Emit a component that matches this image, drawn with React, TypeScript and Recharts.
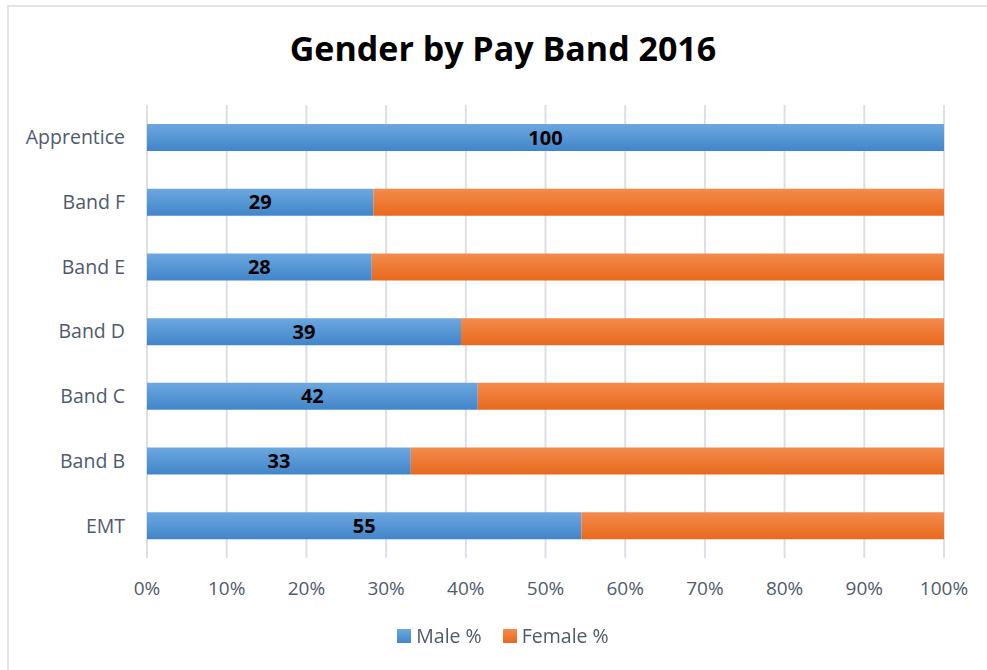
import React from "react";
import { BarChart, Bar, XAxis, YAxis, CartesianGrid, LabelList } from "recharts";

const bands = ["Apprentice", "Band F", "Band E", "Band D", "Band C", "Band B", "EMT"];
const malePct = [100, 28.4, 28.2, 39.4, 41.5, 33.1, 54.5];
const femalePct = [0, 71.6, 71.8, 60.6, 58.5, 66.9, 45.5];
const maleLabels = ["100", "29", "28", "39", "42", "33", "55"];
const xTicks = [0, 10, 20, 30, 40, 50, 60, 70, 80, 90, 100];

const data = bands.map((b, i) => ({
  band: b,
  male: malePct[i],
  female: femalePct[i],
  label: maleLabels[i],
}));

const font = "'Open Sans', sans-serif";
const tickColor = "#4f5b6d";

export default function App() {
  return (
    <div style={{ position: "fixed", left: 0, top: 0, width: 987, height: 670, background: "#fff", fontFamily: font }}>
      <div
        style={{
          position: "absolute",
          left: 7,
          top: 5,
          width: 990,
          height: 680,
          border: "2px solid #e1e4ea",
          boxSizing: "border-box",
        }}
      />
      <div
        style={{
          position: "absolute",
          left: 0,
          width: 1006,
          top: 25,
          textAlign: "center",
          fontSize: 34,
          fontWeight: 700,
          color: "#000",
        }}
      >
        Gender by Pay Band 2016
      </div>
      <div style={{ position: "absolute", left: 0, top: 0 }}>
        <BarChart
          width={987}
          height={670}
          data={data}
          layout="vertical"
          margin={{ top: 105, right: 43, left: 0, bottom: 72 }}
        >
          <defs>
            <linearGradient id="gMale" x1="0" y1="0" x2="0" y2="1">
              <stop offset="0%" stopColor="#6ca8e0" />
              <stop offset="100%" stopColor="#4185c9" />
            </linearGradient>
            <linearGradient id="gFemale" x1="0" y1="0" x2="0" y2="1">
              <stop offset="0%" stopColor="#f48b4c" />
              <stop offset="100%" stopColor="#e7691d" />
            </linearGradient>
          </defs>
          <CartesianGrid horizontal={false} vertical={true} stroke="#dcdfe6" strokeWidth={2} />
          <XAxis
            type="number"
            domain={[0, 100]}
            ticks={xTicks}
            tickFormatter={(v) => `${v}%`}
            axisLine={false}
            tickLine={false}
            tickSize={0}
            tickMargin={24}
            height={40}
            tick={{ fontSize: 19, fill: tickColor, fontFamily: font }}
          />
          <YAxis
            type="category"
            dataKey="band"
            width={147}
            axisLine={false}
            tickLine={false}
            tickSize={0}
            tickMargin={22}
            tick={{ fontSize: 19.5, fill: tickColor, fontFamily: font }}
          />
          <Bar dataKey="male" stackId="a" fill="url(#gMale)" barSize={27} isAnimationActive={false}>
            <LabelList
              dataKey="label"
              position="center"
              style={{ fontSize: 20, fontWeight: 700, fill: "#000", fontFamily: font }}
            />
          </Bar>
          <Bar dataKey="female" stackId="a" fill="url(#gFemale)" barSize={27} isAnimationActive={false} />
        </BarChart>
      </div>
      <div
        style={{
          position: "absolute",
          top: 622,
          left: 0,
          width: 1006,
          display: "flex",
          justifyContent: "center",
          alignItems: "center",
          fontSize: 19.5,
          color: tickColor,
        }}
      >
        <span style={{ display: "inline-block", width: 14, height: 14, backgroundImage: "linear-gradient(#6ca8e0, #4185c9)", marginRight: 5 }} />
        <span style={{ marginRight: 21 }}>Male %</span>
        <span style={{ display: "inline-block", width: 14, height: 14, backgroundImage: "linear-gradient(#f48b4c, #e7691d)", marginRight: 5 }} />
        <span>Female %</span>
      </div>
    </div>
  );
}
